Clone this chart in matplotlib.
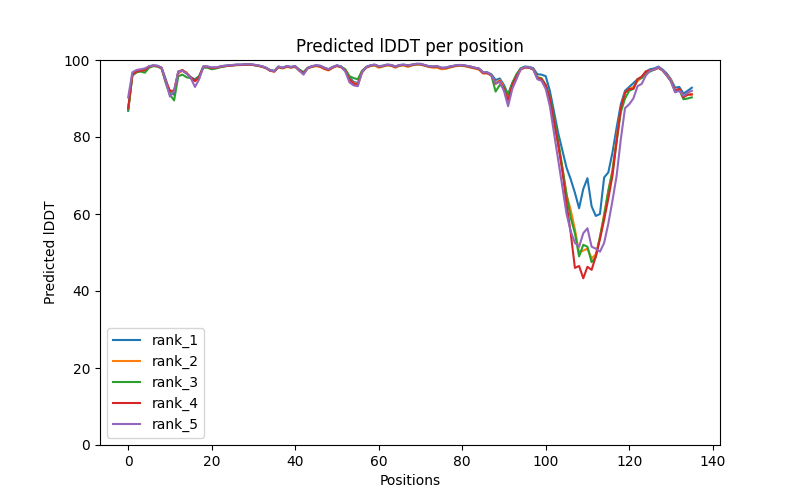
import matplotlib
matplotlib.use("Agg")
import matplotlib.pyplot as plt
import numpy as np

positions = list(range(136))

rank_1 = [
    86.8, 96.3, 97.0, 97.3, 97.3, 98.3, 98.6, 98.5, 98.0, 95.0,
    91.5, 91.0, 96.8, 97.3, 96.5, 95.5, 95.0, 95.8, 98.3, 98.3,
    98.0, 98.0, 98.3, 98.5, 98.6, 98.7, 98.8, 98.8, 98.9, 98.9,
    98.8, 98.6, 98.4, 98.0, 97.4, 97.2, 98.3, 98.0, 98.4, 98.2,
    98.4, 97.5, 96.8, 98.0, 98.4, 98.6, 98.5, 98.0, 97.6, 98.2,
    98.6, 98.3, 97.4, 95.5, 94.3, 94.0, 97.0, 98.2, 98.6, 98.8,
    98.4, 98.5, 98.8, 98.7, 98.3, 98.7, 98.8, 98.6, 98.8, 99.0,
    99.0, 98.7, 98.4, 98.3, 98.4, 98.0, 98.0, 98.3, 98.5, 98.7,
    98.7, 98.5, 98.3, 98.0, 97.8, 96.8, 96.8, 96.3, 94.8, 95.2,
    93.5, 91.0, 94.0, 96.0, 97.8, 98.3, 98.2, 97.9, 96.3, 96.2,
    95.8, 92.0, 86.5, 81.0, 76.5, 72.0, 69.0, 65.5, 61.5, 66.5,
    69.3, 62.0, 59.5, 60.0, 69.5, 70.8, 76.0, 82.5, 88.5, 92.0,
    93.0, 94.0, 95.0, 95.5, 97.0, 97.6, 97.8, 98.3, 97.5, 96.5,
    95.0, 92.8, 93.0, 91.3, 92.0, 92.8,
]

rank_2 = [
    87.2, 96.0, 96.8, 97.2, 97.3, 98.2, 98.5, 98.4, 97.8, 94.5,
    91.8, 92.0, 96.5, 97.2, 96.8, 95.2, 94.5, 95.5, 98.2, 98.2,
    97.8, 97.9, 98.2, 98.4, 98.5, 98.6, 98.7, 98.7, 98.8, 98.8,
    98.7, 98.5, 98.3, 97.9, 97.2, 97.0, 98.1, 97.8, 98.2, 98.0,
    98.2, 97.2, 96.6, 97.8, 98.2, 98.4, 98.2, 97.6, 97.3, 98.0,
    98.4, 98.1, 97.2, 95.0, 94.0, 93.8, 96.8, 98.0, 98.4, 98.6,
    98.0, 98.3, 98.6, 98.5, 98.0, 98.5, 98.6, 98.2, 98.6, 98.8,
    98.8, 98.5, 98.2, 98.0, 98.0, 97.6, 97.7, 98.0, 98.3, 98.5,
    98.5, 98.3, 98.0, 97.8, 97.5, 96.5, 96.5, 96.0, 94.0, 94.8,
    93.0, 90.0, 93.5, 95.5, 97.5, 98.0, 98.0, 97.6, 95.5, 95.3,
    93.5, 90.0, 84.0, 78.0, 72.0, 65.0, 61.0, 56.0, 50.0, 50.5,
    51.0, 48.5, 49.5, 54.0, 60.0, 66.0, 71.5, 80.0, 87.0, 91.5,
    92.5, 93.0, 94.5, 95.5, 97.0, 97.3, 97.5, 98.0, 97.3, 96.2,
    94.8, 92.0, 92.5, 90.5, 91.0, 91.2,
]

rank_3 = [
    87.0, 96.0, 96.8, 97.0, 96.7, 98.0, 98.4, 98.3, 97.8, 94.0,
    91.0, 89.5, 95.8, 96.2, 95.5, 95.3, 94.8, 95.8, 98.0, 98.0,
    97.6, 97.8, 98.1, 98.3, 98.5, 98.6, 98.7, 98.7, 98.8, 98.8,
    98.7, 98.5, 98.3, 97.9, 97.3, 97.1, 98.2, 97.9, 98.3, 98.1,
    98.3, 97.4, 96.8, 97.9, 98.3, 98.5, 98.4, 97.9, 97.5, 98.1,
    98.5, 98.2, 97.6, 95.8, 95.3, 95.0, 97.2, 98.1, 98.5, 98.7,
    98.3, 98.4, 98.7, 98.6, 98.2, 98.6, 98.7, 98.5, 98.7, 98.9,
    98.9, 98.6, 98.3, 98.2, 98.3, 97.9, 97.9, 98.2, 98.4, 98.6,
    98.6, 98.4, 98.2, 97.9, 97.7, 96.7, 96.7, 96.0, 91.8, 93.5,
    93.0, 91.0, 94.0, 96.3, 97.8, 98.2, 98.0, 97.7, 95.5, 95.2,
    93.5, 90.5, 85.0, 79.0, 72.0, 65.0, 59.0, 55.0, 49.0, 52.0,
    51.5, 47.5, 48.8, 54.0, 59.5, 66.0, 71.0, 79.0, 86.5, 90.0,
    92.0, 92.5, 95.0, 95.3, 96.5, 97.0, 97.5, 98.0, 97.3, 96.0,
    94.5, 91.8, 92.3, 89.8, 90.0, 90.3,
]

rank_4 = [
    87.5, 96.2, 97.0, 97.2, 97.4, 98.3, 98.5, 98.4, 97.9, 94.5,
    92.0, 92.0, 97.0, 97.4, 96.5, 95.5, 94.5, 95.5, 98.3, 98.2,
    97.9, 98.0, 98.2, 98.4, 98.5, 98.6, 98.7, 98.7, 98.8, 98.8,
    98.7, 98.5, 98.3, 97.9, 97.2, 97.0, 98.2, 97.9, 98.3, 98.1,
    98.3, 97.3, 96.5, 97.9, 98.3, 98.5, 98.3, 97.8, 97.4, 98.1,
    98.5, 98.2, 97.2, 95.0, 93.8, 93.6, 96.8, 98.1, 98.5, 98.7,
    98.3, 98.4, 98.7, 98.6, 98.2, 98.6, 98.7, 98.5, 98.7, 98.9,
    98.9, 98.6, 98.3, 98.2, 98.3, 97.9, 97.9, 98.2, 98.4, 98.6,
    98.6, 98.4, 98.2, 97.9, 97.7, 96.6, 96.6, 96.0, 93.8, 94.5,
    92.5, 89.5, 93.5, 95.8, 97.6, 98.1, 98.0, 97.6, 95.3, 95.0,
    93.5, 90.0, 84.0, 78.0, 71.0, 62.5, 55.0, 46.0, 46.5, 43.3,
    46.3, 45.5, 49.0, 53.5, 58.5, 64.0, 70.0, 79.0, 87.5, 91.5,
    92.5, 92.5, 95.0, 95.7, 97.0, 97.3, 97.5, 98.0, 97.3, 96.0,
    94.5, 92.0, 92.5, 90.3, 91.0, 91.0,
]

rank_5 = [
    90.3, 96.8, 97.4, 97.6, 97.8, 98.4, 98.6, 98.5, 98.0, 94.5,
    90.5, 92.0, 97.0, 97.2, 96.5, 95.3, 93.0, 95.0, 98.3, 98.3,
    98.1, 98.1, 98.3, 98.5, 98.6, 98.7, 98.8, 98.8, 98.9, 98.9,
    98.8, 98.6, 98.4, 98.0, 97.3, 97.1, 98.3, 98.0, 98.4, 98.2,
    98.4, 97.2, 96.2, 97.9, 98.4, 98.6, 98.5, 98.0, 97.6, 98.2,
    98.6, 98.3, 97.0, 94.2, 93.4, 93.2, 96.8, 98.2, 98.6, 98.8,
    98.4, 98.5, 98.8, 98.7, 98.3, 98.7, 98.8, 98.6, 98.8, 99.0,
    99.0, 98.7, 98.4, 98.3, 98.4, 98.0, 98.0, 98.3, 98.5, 98.7,
    98.7, 98.5, 98.3, 98.0, 97.8, 96.8, 96.8, 96.0, 94.0, 94.3,
    92.0, 88.0, 92.5, 95.0, 97.6, 98.2, 98.1, 97.7, 95.0, 94.6,
    92.5, 88.0, 81.0, 74.0, 67.0, 60.0, 55.5, 52.5, 51.5, 55.0,
    56.3, 51.5, 51.0, 50.2, 52.5, 57.5, 63.5, 70.0, 79.5, 87.5,
    88.5, 90.0, 93.2, 93.8, 96.0, 97.2, 97.5, 98.2, 97.3, 96.0,
    94.5, 91.6, 92.0, 90.7, 91.5, 92.0,
]

series_names = ["rank_1", "rank_2", "rank_3", "rank_4", "rank_5"]
series_values = [rank_1, rank_2, rank_3, rank_4, rank_5]

fig, ax = plt.subplots(figsize=(8, 5), dpi=100)
for name, vals in zip(series_names, series_values):
    ax.plot(positions, vals, label=name)

ax.set_ylim(0, 100)
ax.set_title("Predicted lDDT per position")
ax.set_xlabel("Positions")
ax.set_ylabel("Predicted lDDT")
ax.legend(loc="lower left")
fig.savefig("out.png", dpi=100)
